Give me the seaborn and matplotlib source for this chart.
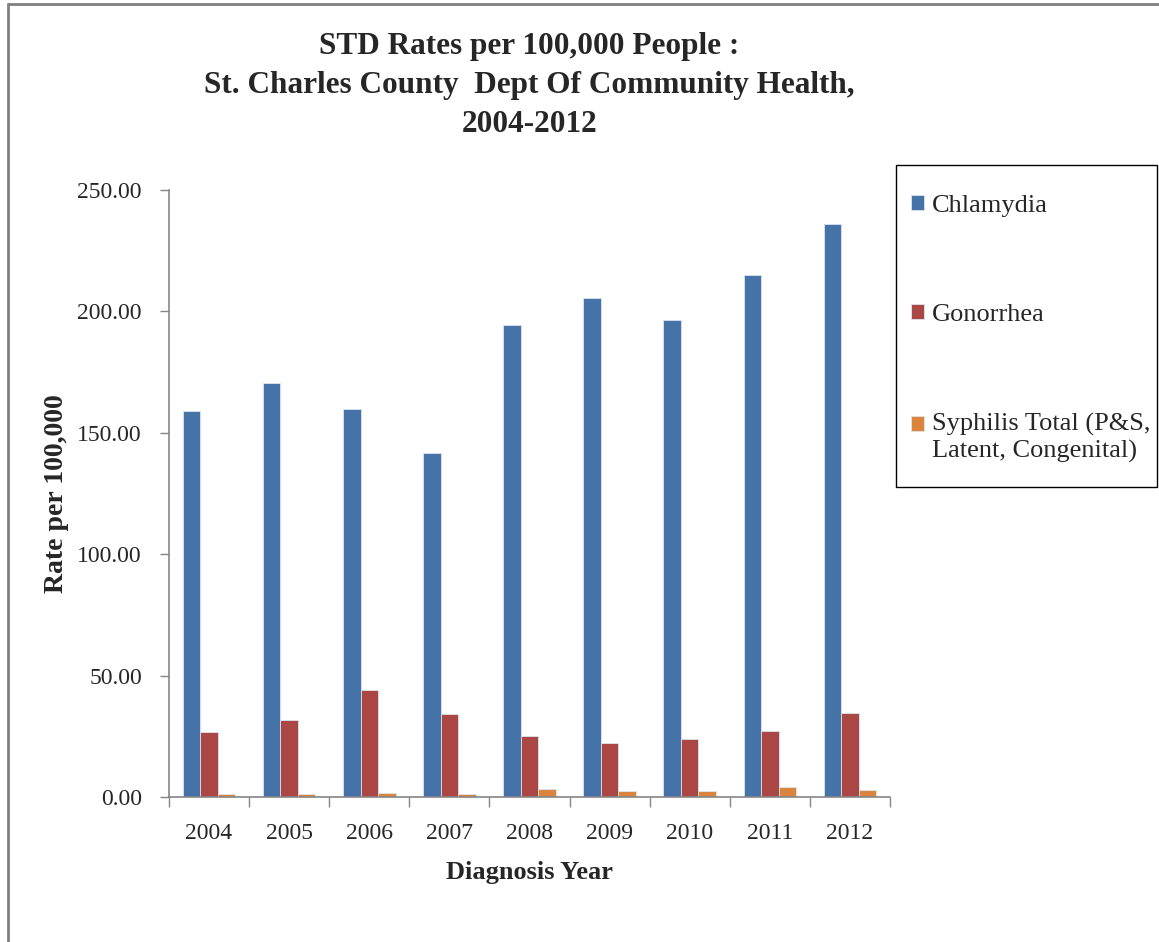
import seaborn as sns
import matplotlib.pyplot as plt
import pandas as pd
from matplotlib.lines import Line2D
from matplotlib.patches import Rectangle
from matplotlib.ticker import FormatStrFormatter, FixedLocator

# data
years = ["2004", "2005", "2006", "2007", "2008", "2009", "2010", "2011", "2012"]
chlamydia = [158.8, 170.6, 159.9, 141.6, 194.2, 205.4, 196.3, 214.8, 235.9]
gonorrhea = [26.8, 31.7, 44.1, 34.1, 25.0, 22.4, 24.0, 27.3, 34.6]
syphilis = [1.2, 1.2, 1.6, 1.2, 3.4, 2.3, 2.3, 4.0, 2.9]
series_names = ["Chlamydia", "Gonorrhea", "Syphilis Total (P&S,\nLatent, Congenital)"]

df = pd.DataFrame({"Year": years * 3,
                   "Rate": chlamydia + gonorrhea + syphilis,
                   "Disease": [n for n in series_names for _ in years]})

sns.set_style("white")
plt.rcParams["font.family"] = ["Liberation Serif", "DejaVu Serif"]

W, H = 1159, 942
fig = plt.figure(figsize=(W / 100, H / 100), dpi=100)
ax = fig.add_axes([169 / W, 1 - 797 / H, (890 - 169) / W, (797 - 190) / H])

sns.barplot(data=df, x="Year", y="Rate", hue="Disease", order=years,
            hue_order=series_names,
            palette=["#4572A7", "#AA4643", "#DB843D"],
            width=0.655, gap=0, edgecolor="#dde4ee", linewidth=0.6,
            saturation=1, ax=ax)

ax.set_ylim(0, 250)
ax.set_xlim(-0.5, len(years) - 0.5)
ax.yaxis.set_major_formatter(FormatStrFormatter("%.2f"))
ax.set_yticks([0, 50, 100, 150, 200, 250])
ax.tick_params(axis="y", labelsize=17, length=6.5, width=1, color="#868686",
               direction="out", left=True, pad=13)
ax.tick_params(axis="x", which="major", labelsize=17, length=0, pad=19)
ax.xaxis.set_minor_locator(FixedLocator([i - 0.5 for i in range(len(years) + 1)]))
ax.tick_params(axis="x", which="minor", length=7, width=1, color="#868686",
               direction="out", bottom=True)

for s in ["top", "right"]:
    ax.spines[s].set_visible(False)
for s in ["left", "bottom"]:
    ax.spines[s].set_color("#868686")
    ax.spines[s].set_linewidth(1.2)

ax.set_xlabel("Diagnosis Year", fontsize=19, fontweight="bold", labelpad=12)
ax.set_ylabel("Rate per 100,000", fontsize=20, fontweight="bold", labelpad=6)
ax.set_title("STD Rates per 100,000 People :\nSt. Charles County  Dept Of Community Health,\n2004-2012",
             fontsize=22.5, fontweight="bold", pad=42, linespacing=1.45)

ax.legend_.remove()
handles, labels = ax.get_legend_handles_labels()
leg = fig.legend(handles, labels, loc="upper left",
                 bbox_to_anchor=(911 / W, 1 - 195 / H),
                 fontsize=19, frameon=False, labelspacing=3.3,
                 handlelength=0.5, handleheight=0.5, handletextpad=0.3,
                 borderpad=0, borderaxespad=0)
# align the syphilis marker with the first line of its label
h3 = leg.legend_handles[2]
h3.set_y(h3.get_y() + 9.5)

# legend frame
fig.add_artist(Rectangle((896 / W, 1 - 487 / H), (1157 - 896) / W, (487 - 165) / H,
                         transform=fig.transFigure, fill=False,
                         edgecolor="black", lw=1.0))

# outer chart border (left and top)
fig.add_artist(Line2D([8 / W, 8 / W], [0, 1 - 4 / H],
                      transform=fig.transFigure, color="#808080", lw=2))
fig.add_artist(Line2D([8 / W, 1], [1 - 4 / H, 1 - 4 / H],
                      transform=fig.transFigure, color="#808080", lw=2))

fig.savefig("out.png", dpi=100)
